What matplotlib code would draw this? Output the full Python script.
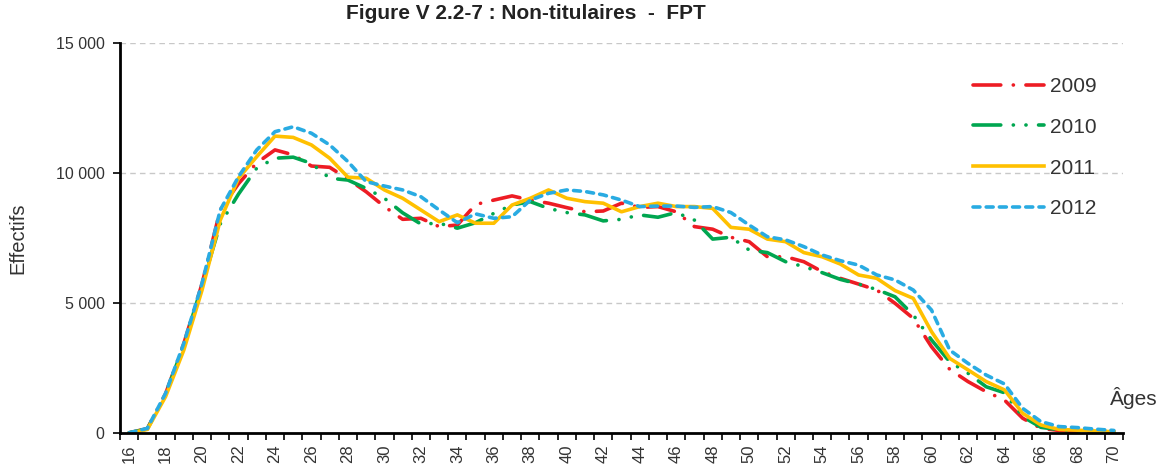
import matplotlib
matplotlib.use("Agg")
import matplotlib.pyplot as plt

ages = list(range(16, 71))

y2009 = [20, 180, 1520, 3450, 5750, 8600, 9600, 10400, 10900, 10710, 10280,
         10230, 9780, 9290, 8720, 8230, 8270, 7950, 8010, 8800, 8970, 9130,
         8970, 8850, 8680, 8520, 8550, 8850, 8690, 8720, 8520, 7950, 7850,
         7540, 7370, 6790, 6790, 6600, 6220, 5960, 5740, 5510, 5000, 4420,
         3330, 2460, 1990, 1600, 1280, 580, 190, 110, 60, 40, 30]
y2010 = [20, 170, 1490, 3400, 5700, 8050, 9200, 10200, 10580, 10620, 10380,
         9810, 9740, 9420, 9040, 8480, 8050, 8080, 7890, 8100, 8460, 8780,
         8910, 8650, 8490, 8400, 8170, 8230, 8400, 8310, 8490, 8200, 7470,
         7540, 7050, 6950, 6600, 6410, 6180, 5920, 5740, 5530, 5250, 4550,
         3590, 2750, 2310, 1790, 1560, 640, 230, 140, 90, 60, 40]
y2011 = [0, 150, 1410, 3200, 5510, 8200, 9810, 10640, 11430, 11380, 11090,
         10580, 9850, 9810, 9360, 9040, 8590, 8140, 8400, 8080, 8080, 8780,
         9040, 9360, 9040, 8910, 8850, 8520, 8720, 8850, 8720, 8720, 8650,
         7920, 7850, 7470, 7370, 6950, 6790, 6510, 6090, 5960, 5490, 5190,
         3910, 2880, 2440, 1990, 1670, 770, 320, 150, 120, 90, 60]
y2012 = [20, 190, 1540, 3460, 5770, 8590, 9870, 10900, 11600, 11790, 11540,
         11090, 10450, 9680, 9510, 9360, 9100, 8590, 8100, 8440, 8270, 8330,
         8970, 9230, 9360, 9300, 9170, 8970, 8720, 8740, 8740, 8690, 8720,
         8490, 8010, 7560, 7440, 7180, 6860, 6640, 6470, 6090, 5900, 5510,
         4740, 3200, 2690, 2240, 1900, 960, 450, 260, 220, 160, 110]

yticks = [0, 5000, 10000, 15000]
ytick_labels = ["0", "5 000", "10 000", "15 000"]

plt.rcParams['font.family'] = ['Liberation Sans', 'DejaVu Sans']
plt.rcParams['lines.scale_dashes'] = False

fig = plt.figure(figsize=(11.67, 4.68), dpi=100)
ax = fig.add_axes([0.1028, 0.0741, 0.8595, 0.8334])

lw = 2.6
ax.plot(ages, y2009, color='#ed1c24', lw=lw, dashes=(20, 9, 0.1, 9),
        dash_capstyle='round', label='2009')
ax.plot(ages, y2010, color='#00a650', lw=lw, dashes=(20, 9, 0.1, 9, 0.1, 9),
        dash_capstyle='round', label='2010')
ax.plot(ages, y2011, color='#ffc000', lw=lw, label='2011')
ax.plot(ages, y2012, color='#29abe2', lw=lw, dashes=(5, 4.5),
        dash_capstyle='round', label='2012')

ax.set_xlim(15.5, 70.5)
ax.set_ylim(0, 15000)

ax.set_yticks(yticks)
ax.set_yticklabels(ytick_labels, fontsize=11.5, color='#333333')
ax.tick_params(axis='y', length=5, width=1.2, direction='out', pad=6)

ax.set_xticks(ages[::2])
ax.set_xticklabels([str(a) for a in ages[::2]], rotation=90, fontsize=12,
                   color='#333333')
ax.set_xticks([a + 0.5 for a in ages[:-1]] + [15.5, 70.5], minor=True)
ax.tick_params(axis='x', which='major', length=0, pad=8)
ax.tick_params(axis='x', which='minor', length=5, width=1.2, direction='out')

for v in yticks[1:]:
    ax.axhline(v, color='#c8c8c8', lw=1, ls=(0, (4, 3)), zorder=0)

for s in ['top', 'right']:
    ax.spines[s].set_visible(False)
ax.spines['left'].set_linewidth(2)
ax.spines['bottom'].set_linewidth(2)

ax.set_ylabel('Effectifs', fontsize=14.5, color='#333333')
ax.yaxis.set_label_coords(-0.092, 0.5)

ax.text(0.987, 0.09, 'Âges', transform=ax.transAxes, fontsize=15,
        color='#333333', ha='left', va='center')

leg = ax.legend(loc='upper left', bbox_to_anchor=(0.832, 0.962), frameon=False,
                fontsize=15, handlelength=3.4, labelspacing=1.05,
                handletextpad=0.3)
for t in leg.get_texts():
    t.set_color('#333333')

fig.text(0.451, 0.972, 'Figure V 2.2-7 : Non-titulaires  -  FPT',
         ha='center', va='center', fontsize=15, fontweight='bold',
         color='#222222')

plt.savefig('out.png', dpi=100)
